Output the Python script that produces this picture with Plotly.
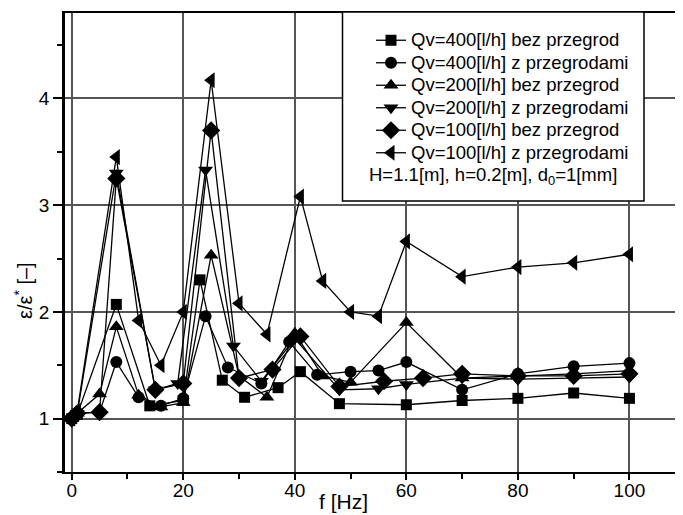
import plotly.graph_objects as go

# ---- data ----
names = [
    "Qv=400[l/h] bez przegrod",
    "Qv=400[l/h] z przegrodami",
    "Qv=200[l/h] bez przegrod",
    "Qv=200[l/h] z przegrodami",
    "Qv=100[l/h] bez przegrod",
    "Qv=100[l/h] z przegrodami",
]
f_400_bez = [0, 1, 8, 14, 20, 23, 27, 31, 37, 41, 48, 60, 70, 80, 90, 100]
v_400_bez = [1.00, 1.04, 2.07, 1.12, 1.17, 2.30, 1.36, 1.20, 1.29, 1.44, 1.14, 1.13, 1.17, 1.19, 1.24, 1.19]

f_400_z = [0, 1, 5, 8, 12, 16, 20, 24, 28, 34, 39, 44, 50, 55, 60, 70, 80, 90, 100]
v_400_z = [1.00, 1.05, 1.06, 1.53, 1.20, 1.12, 1.19, 1.96, 1.48, 1.33, 1.72, 1.41, 1.44, 1.45, 1.53, 1.27, 1.42, 1.49, 1.52]

f_200_bez = [0, 1, 5, 8, 12, 16, 20, 25, 30, 35, 40, 45, 50, 60, 70, 80, 90, 100]
v_200_bez = [1.00, 1.05, 1.23, 1.86, 1.22, 1.11, 1.15, 2.53, 1.40, 1.20, 1.80, 1.40, 1.34, 1.90, 1.38, 1.40, 1.42, 1.45]

f_200_z = [0, 1, 8, 15, 19, 24, 29, 34, 40, 48, 55, 60, 70, 80, 90, 100]
v_200_z = [1.00, 1.05, 3.30, 1.27, 1.33, 3.33, 1.68, 1.35, 1.75, 1.27, 1.28, 1.32, 1.38, 1.37, 1.38, 1.39]

f_100_bez = [0, 1, 5, 8, 15, 20, 25, 30, 36, 41, 48, 56, 63, 70, 80, 90, 100]
v_100_bez = [1.00, 1.05, 1.06, 3.25, 1.27, 1.33, 3.70, 1.38, 1.46, 1.77, 1.30, 1.35, 1.38, 1.42, 1.40, 1.40, 1.42]

f_100_z = [0, 1, 8, 12, 16, 20, 25, 30, 35, 41, 45, 50, 55, 60, 70, 80, 90, 100]
v_100_z = [1.00, 1.07, 3.45, 1.92, 1.50, 2.00, 4.17, 2.08, 1.79, 3.08, 2.29, 2.00, 1.96, 2.66, 2.33, 2.42, 2.46, 2.54]

x_ticks = [0, 20, 40, 60, 80, 100]
y_ticks = [1, 2, 3, 4]
note_text = "H=1.1[m], h=0.2[m], d<sub>0</sub>=1[mm]"

series = [
    (f_400_bez, v_400_bez, "square", 11),
    (f_400_z, v_400_z, "circle", 12),
    (f_200_bez, v_200_bez, "triangle-up", 13),
    (f_200_z, v_200_z, "triangle-down", 13),
    (f_100_bez, v_100_bez, "diamond", 14),
    (f_100_z, v_100_z, "triangle-left", 14),
]

FONT = "Liberation Sans, Arial, sans-serif"
OFF = 8  # page body margin

# figure geometry (viewport pixel coordinates)
VW, VH = 683, 515
W, H = VW - OFF, VH - OFF
PL, PR, PT, PB = 65, 683, 13, 472  # plot area in viewport pixels
L, R, T, B = PL - OFF, (VW - PR), PT - OFF, H - (PB - OFF)
pw, ph = W - L - R, H - T - B

def px(x):
    return (x - OFF - L) / pw

def py(y):
    return (H - B - (y - OFF)) / ph

fig = go.Figure()
for (fx, vy, sym, sz), nm in zip(series, names):
    fig.add_trace(go.Scatter(
        x=fx, y=vy, name="<span style='font-size:18.5px'>" + nm + "</span>",
        mode="lines+markers",
        line=dict(color="black", width=1.3),
        marker=dict(symbol=sym, size=sz, color="black"),
    ))

fig.update_layout(
    width=W, height=H,
    margin=dict(l=L, r=R, t=T, b=B, autoexpand=False),
    paper_bgcolor="white", plot_bgcolor="white",
    font=dict(family=FONT, size=18, color="black"),
    showlegend=True,
    legend=dict(
        x=px(371), y=py(24), xanchor="left", yanchor="top",
        bgcolor="rgba(0,0,0,0)", borderwidth=0,
        font=dict(family=FONT, size=15, color="black"),
        tracegroupgap=0, itemwidth=30,
    ),
    xaxis=dict(
        range=[-1.2, 109.6], tickvals=x_ticks,
        showgrid=True, gridcolor="#555555", gridwidth=1.5,
        zeroline=False, automargin=False,
        showline=True, linecolor="black", linewidth=2, mirror=True,
        ticks="outside", ticklen=6, tickwidth=1.5, tickcolor="black",
        ticklabelstandoff=-6,
        minor=dict(dtick=10, tick0=0, ticks="outside", ticklen=5, tickwidth=1.5, tickcolor="black", showgrid=False),
        tickfont=dict(family=FONT, size=19),
    ),
    yaxis=dict(
        range=[0.5, 4.8], tickvals=y_ticks,
        showgrid=True, gridcolor="#555555", gridwidth=1.5,
        zeroline=False, automargin=False,
        showline=True, linecolor="black", linewidth=2.5, mirror=False,
        ticks="outside", ticklen=9, tickwidth=1.5, tickcolor="black",
        minor=dict(dtick=0.5, tick0=0.5, ticks="outside", ticklen=5, tickwidth=1.5, tickcolor="black", showgrid=False),
        tickfont=dict(family=FONT, size=19),
    ),
)

# legend frame
fig.add_shape(type="rect", xref="paper", yref="paper",
              x0=px(342.5), x1=px(644), y0=py(201), y1=py(12),
              line=dict(color="black", width=1.5), fillcolor="white", layer="above")

fig.add_annotation(text=note_text, xref="paper", yref="paper",
                   x=px(367), y=py(176), xanchor="left", yanchor="middle",
                   showarrow=False, font=dict(family=FONT, size=18.5, color="black"))

fig.add_annotation(text="f [Hz]", xref="paper", yref="paper",
                   x=px(343), y=py(501), xanchor="center", yanchor="middle",
                   showarrow=False, font=dict(family=FONT, size=21, color="black"))

fig.add_annotation(text="ε/ε<sup>*</sup> [–]", xref="paper", yref="paper",
                   x=px(24), y=py(291), xanchor="center", yanchor="middle",
                   textangle=-90, showarrow=False,
                   font=dict(family=FONT, size=20, color="black"))

fig.write_html("out.html")
